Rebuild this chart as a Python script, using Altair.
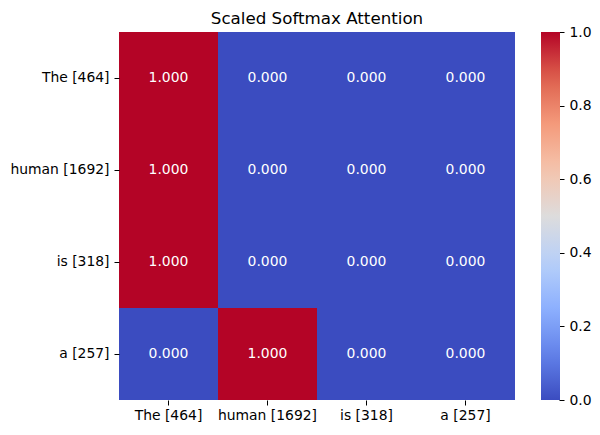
import altair as alt
import pandas as pd

tokens = ["The [464]", "human [1692]", "is [318]", "a [257]"]
row_the = [1.0, 0.0, 0.0, 0.0]
row_human = [1.0, 0.0, 0.0, 0.0]
row_is = [1.0, 0.0, 0.0, 0.0]
row_a = [0.0, 1.0, 0.0, 0.0]
rows = [row_the, row_human, row_is, row_a]
cbar_ticks = [0.0, 0.2, 0.4, 0.6, 0.8, 1.0]

cw_stops = [0.0, 0.125, 0.25, 0.375, 0.5, 0.625, 0.75, 0.875, 1.0]
cw_colors = ["#3b4cc0", "#6282ea", "#8db0fe", "#b8d0f9", "#dddcdc",
             "#f5c4ad", "#f49a7b", "#de604d", "#b40426"]

records = []
for i, q in enumerate(tokens):
    for j, k in enumerate(tokens):
        records.append({"query": q, "key": k, "value": rows[i][j]})
df = pd.DataFrame(records)
df_ticks = pd.DataFrame({"t": cbar_ticks})

FONT = "DejaVu Sans"
cscale = alt.Scale(domain=cw_stops, range=cw_colors, interpolate="rgb")

xenc = alt.X("key:N", sort=tokens, title=None,
             axis=alt.Axis(labelAngle=0, domain=False, grid=False, tickSize=5,
                           tickColor="#000", labelColor="#000", labelFontSize=13.9,
                           labelFont=FONT, labelPadding=3))
yenc = alt.Y("query:N", sort=tokens, title=None,
             axis=alt.Axis(domain=False, grid=False, tickSize=5, tickColor="#000",
                           labelColor="#000", labelFontSize=13.9, labelFont=FONT,
                           labelPadding=5))

heat = alt.Chart(df).mark_rect().encode(
    x=xenc, y=yenc,
    color=alt.Color("value:Q", scale=cscale,
                    legend=alt.Legend(type="gradient", title=None, orient="none",
                                      legendX=422, legendY=0,
                                      gradientLength=368, gradientThickness=19,
                                      labelExpr="''", labelOpacity=0,
                                      gradientStrokeWidth=0,
                                      direction="vertical")),
)

text = alt.Chart(df).mark_text(color="white", fontSize=13.9, font=FONT).encode(
    x=xenc, y=yenc,
    text=alt.Text("value:Q", format=".3f")
)

ticks = alt.Chart(df_ticks).mark_point(opacity=0).encode(
    y=alt.Y("t:Q", scale=alt.Scale(domain=[0, 1], nice=False, zero=False), title=None,
            axis=alt.Axis(orient="right", offset=44, values=cbar_ticks, format=".1f",
                          grid=False, domain=False, tickSize=5, tickColor="#000",
                          labelColor="#000", labelFontSize=13.9, labelFont=FONT,
                          labelPadding=5, labelBaseline="middle", labelFlush=False))
)

chart = alt.layer(heat + text, ticks).resolve_scale(y="independent").properties(
    width=396, height=368,
    title=alt.TitleParams("Scaled Softmax Attention", fontSize=16.7, font=FONT,
                          fontWeight="normal", color="#000", offset=5, dy=8),
    autosize=alt.AutoSizeParams(type="none"),
    padding={"left": 111, "top": 24, "right": 77, "bottom": 26},
).configure_view(stroke=None).configure_scale(bandPaddingInner=0, bandPaddingOuter=0)

chart.save("out.html", embed_options={"renderer": "svg", "actions": False})
